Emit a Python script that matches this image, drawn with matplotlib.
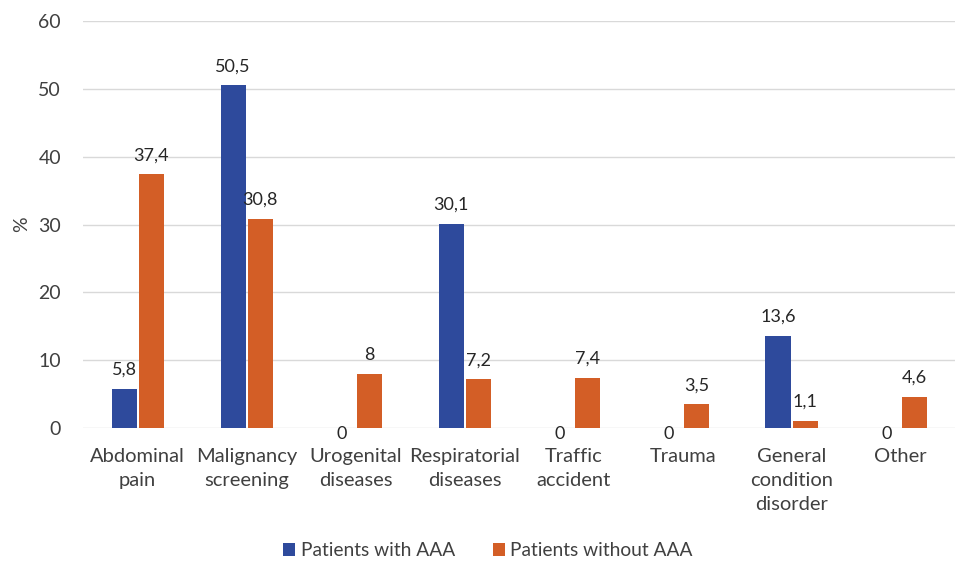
import matplotlib.pyplot as plt
import numpy as np

plt.rcParams['font.family'] = ['Lato', 'DejaVu Sans']

categories = ['Abdominal\npain', 'Malignancy\nscreening', 'Urogenital\ndiseases',
              'Respiratorial\ndiseases', 'Traffic\naccident', 'Trauma',
              'General\ncondition\ndisorder', 'Other']
with_aaa = [5.8, 50.5, 0, 30.1, 0, 0, 13.6, 0]
without_aaa = [37.4, 30.8, 8, 7.2, 7.4, 3.5, 1.1, 4.6]

blue = '#2E4A9C'
orange = '#D35E26'
text_col = '#404040'

fig = plt.figure(figsize=(9.57, 5.62), dpi=100)
ax = fig.add_axes([0.087, 0.238, 0.911, 0.725])

x = np.arange(len(categories))
w = 0.23
gap = 0.01
b1 = ax.bar(x - w / 2 - gap, with_aaa, w, color=blue, label='Patients with AAA', zorder=3)
b2 = ax.bar(x + w / 2 + gap, without_aaa, w, color=orange, label='Patients without AAA', zorder=3)

def fmt(v):
    return f'{v:g}'.replace('.', ',')

for bars, vals in [(b1, with_aaa), (b2, without_aaa)]:
    for bar, v in zip(bars, vals):
        cx = bar.get_x() + bar.get_width() / 2
        if v == 0:
            ax.annotate(fmt(v), (cx, 0), xytext=(0, -4), textcoords='offset points',
                        ha='center', va='center', fontsize=13, color='#262626')
        else:
            ax.annotate(fmt(v), (cx, v), xytext=(0, 8), textcoords='offset points',
                        ha='center', va='bottom', fontsize=13, color='#262626')

ax.set_xlim(-0.5, len(categories) - 0.5)
ax.set_ylim(0, 60)
ax.set_yticks(range(0, 61, 10))
ax.set_xticks(x)
ax.set_xticklabels(categories, fontsize=14.5, color=text_col, linespacing=1.5)
ax.tick_params(axis='both', length=0, labelsize=14, labelcolor=text_col)
ax.tick_params(axis='x', labelsize=14.5, pad=14)
ax.tick_params(axis='y', pad=16)
ax.grid(axis='y', color='#D9D9D9', lw=1, zorder=0)
for s in ax.spines.values():
    s.set_visible(False)
ax.set_ylabel('%', fontsize=14, color=text_col, labelpad=6)

fig.legend(handles=[b1, b2], loc='center', bbox_to_anchor=(0.51, 0.02), ncol=2,
           frameon=False, fontsize=13.8, handlelength=0.6, handleheight=0.6,
           handletextpad=0.3, columnspacing=2.0, labelcolor=text_col)

fig.savefig('out.png', dpi=100)
